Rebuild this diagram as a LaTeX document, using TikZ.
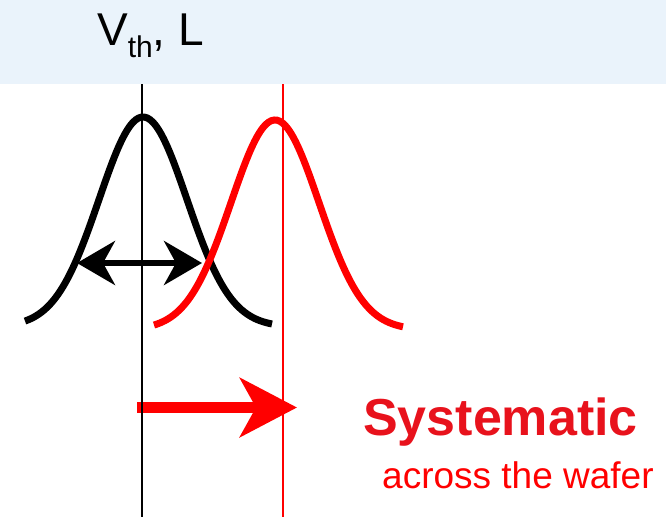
\documentclass[tikz,border=0pt]{standalone}
\usepackage{fontspec}
\setmainfont{Liberation Sans}
\usepackage{tikz}
\usetikzlibrary{arrows.meta}
\definecolor{HeaderBlue}{RGB}{234,243,251}
\definecolor{ShiftRed}  {RGB}{255,  0,  0}
\definecolor{TitleRed}  {RGB}{232, 18, 28}

\begin{document}
\begin{tikzpicture}[
    x=1pt, y=-1pt,
    header/.style={fill=HeaderBlue, draw=none, anchor=north west, inner sep=0pt, minimum width=666pt, minimum height=84pt},
    dist/.style={line width=7pt},
    guide/.style={line width=2pt},
    spread/.style={{Stealth[length=38pt, width=44pt, inset=12pt]}-{Stealth[length=38pt, width=44pt, inset=12pt]}, line width=6pt},
    driftarrow/.style={-{Stealth[length=57pt, width=59pt, inset=16pt]}, line width=11pt, ShiftRed},
    lbl/.style={inner sep=0pt, anchor=base west}
]
    \useasboundingbox (0,0) rectangle (666,517);

    % Header
    \node[header] (band) at (0,0) {};
    \node[lbl, font=\fontsize{46}{50}\selectfont] (param) at (97,45) {V\raisebox{-12pt}{\fontsize{30}{30}\selectfont th}, L};

    % Distributions
    \draw[dist] plot[domain=-118:129, samples=90, smooth] ({\x+143}, {326.8-209.8*exp(-((\x/10)^2)/38.72)});
    \coordinate (spreadL) at (77,263);
    \coordinate (spreadR) at (202,263);
    \draw[spread] (spreadL) -- (spreadR);
    \draw[dist, ShiftRed] plot[domain=-121:128, samples=90, smooth] ({\x+275}, {329.8-209.8*exp(-((\x/10)^2)/38.72)});

    % Shift
    \coordinate (shiftS) at (137,407.5);
    \coordinate (shiftE) at (297,407.5);
    \draw[driftarrow] (shiftS) -- (shiftE);

    % Mean lines
    \coordinate (meanA) at (142,84);
    \coordinate (meanB) at (283,84);
    \draw[guide] (meanA) -- (meanA |- 0,517);
    \draw[guide, ShiftRed] (meanB) -- (meanB |- 0,517);

    % Labels
    \node[lbl, font=\fontsize{52}{58}\selectfont\bfseries, text=TitleRed] (sys) at (363,435) {Systematic};
    \node[lbl, font=\fontsize{37}{42}\selectfont, text=ShiftRed] (wafer) at (382,488) {across the wafer};

\end{tikzpicture}
\end{document}
